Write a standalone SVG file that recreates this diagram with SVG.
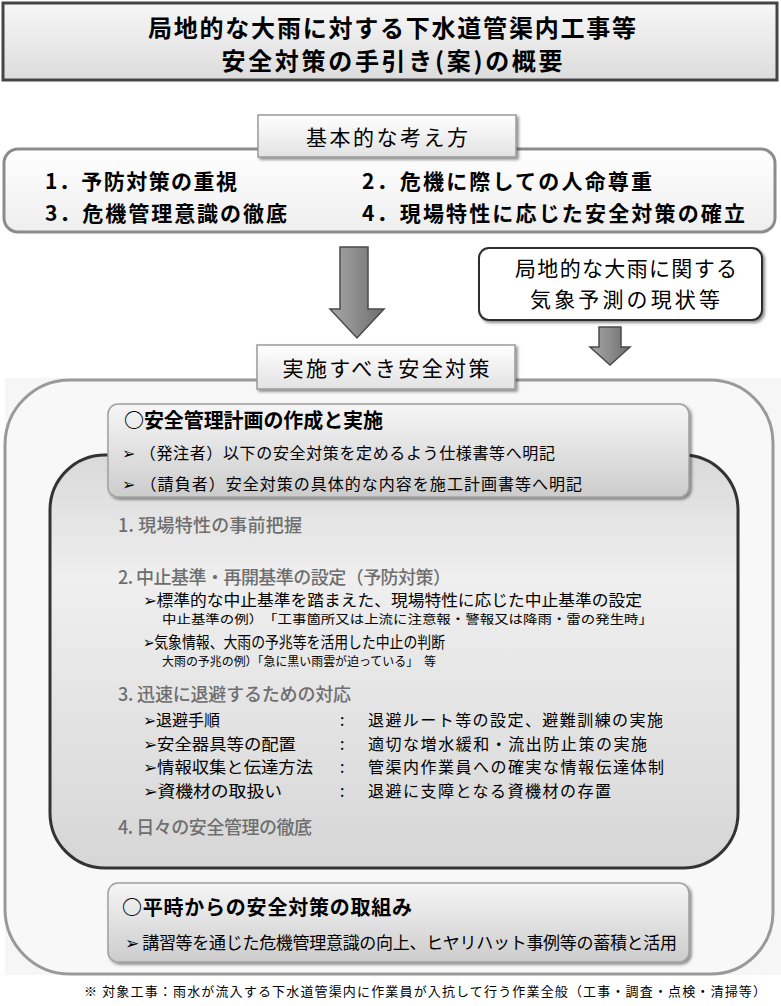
<svg xmlns="http://www.w3.org/2000/svg" width="781" height="1006" viewBox="0 0 781 1006">
<defs>
<linearGradient id="gTitle" x1="0" y1="0" x2="0" y2="1"><stop offset="0" stop-color="#f7f7f7"/><stop offset="1" stop-color="#dcdcdc"/></linearGradient>
<linearGradient id="gLabel" x1="0" y1="0" x2="0" y2="1"><stop offset="0" stop-color="#ffffff"/><stop offset="1" stop-color="#e2e2e2"/></linearGradient>
<linearGradient id="gBasic" x1="0" y1="0" x2="0" y2="1"><stop offset="0" stop-color="#ffffff"/><stop offset="1" stop-color="#eeeeee"/></linearGradient>
<linearGradient id="gInner" x1="0" y1="0" x2="0" y2="1"><stop offset="0" stop-color="#d9d9d9"/><stop offset="0.3" stop-color="#efefef"/><stop offset="1" stop-color="#d6d6d6"/></linearGradient>
<linearGradient id="gPlan" x1="0" y1="0" x2="0" y2="1"><stop offset="0" stop-color="#f6f6f6"/><stop offset="1" stop-color="#cccccc"/></linearGradient>
<linearGradient id="gArrow" x1="0" y1="0" x2="1" y2="0"><stop offset="0" stop-color="#a8a8a8"/><stop offset="1" stop-color="#6e6e6e"/></linearGradient>
<filter id="sh" x="-5%" y="-10%" width="112%" height="130%"><feDropShadow dx="2" dy="2" stdDeviation="1.5" flood-color="#000" flood-opacity="0.45"/></filter>
</defs>
<style>
text{font-family:"Noto Sans CJK JP","Liberation Sans",sans-serif;fill:#000}
.t{font-size:24px;font-weight:bold;text-anchor:middle}
.b{font-size:21px;font-weight:bold}
.lab{font-size:21px;text-anchor:middle}
.h{font-size:20px;font-weight:bold}
.bl{font-size:16px}
.sec{font-size:18px;fill:#6e6e6e;font-weight:500}
.it{font-size:16px}
.sm{font-size:12px}
.fn{font-size:13px}
.arrow{fill:url(#gArrow);stroke:#4a4a4a;stroke-width:1.5}
</style>
<rect x="0" y="0" width="781" height="1006" fill="#ffffff"/>

<g id="title">
<rect x="3" y="3" width="774" height="77" fill="url(#gTitle)" stroke="#454545" stroke-width="3"/>
<text class="t" x="392" y="37" textLength="488">局地的な大雨に対する下水道管渠内工事等</text>
<text class="t" x="392" y="70" textLength="341">安全対策の手引き(案)の概要</text>
</g>

<g id="basic">
<rect x="4" y="149" width="771" height="83" rx="14" fill="url(#gBasic)" stroke="#8c8c8c" stroke-width="3"/>
<text class="b" x="45" y="189" textLength="192">1．予防対策の重視</text>
<text class="b" x="45" y="221" textLength="242">3．危機管理意識の徹底</text>
<text class="b" x="362" y="189" textLength="290">2．危機に際しての人命尊重</text>
<text class="b" x="362" y="221" textLength="383">4．現場特性に応じた安全対策の確立</text>
</g>

<g id="basic-label">
<rect x="258" y="115" width="258" height="42" fill="url(#gLabel)" stroke="#9a9a9a" stroke-width="1.5" filter="url(#sh)"/>
<text class="lab" x="387" y="145" textLength="162">基本的な考え方</text>
</g>

<g id="forecast">
<rect x="479" y="248" width="283" height="72" rx="10" fill="#ffffff" stroke="#2f2f2f" stroke-width="2" filter="url(#sh)"/>
<text class="lab" x="626" y="276" textLength="222">局地的な大雨に関する</text>
<text class="lab" x="625" y="307" textLength="190">気象予測の現状等</text>
</g>

<g id="measures">
<rect x="5" y="378" width="776" height="597" fill="#f6f6f6"/>
<path d="M70,380 H710 A63,63 0 0 1 773,443 V912 A62,62 0 0 1 711,974 H70 A65,65 0 0 1 5,909 V445 A65,65 0 0 1 70,380 Z" fill="#f8f8f8" stroke="#999999" stroke-width="3"/>
</g>

<g id="measures-label">
<rect x="257" y="345" width="258" height="44" fill="url(#gLabel)" stroke="#9a9a9a" stroke-width="1.5" filter="url(#sh)"/>
<text class="lab" x="386" y="376" textLength="207">実施すべき安全対策</text>
</g>

<g id="connectors">
<polygon class="arrow" points="340,247 368,247 368,309 384,309 357,338 330,309 340,309"/>
<polygon class="arrow" points="599,327 621,327 621,347 630,347 610,365 590,347 599,347"/>
</g>

<g id="detail">
<path d="M105,455 H683 A55,55 0 0 1 738,510 V813 A55,55 0 0 1 683,868 H105 A55,55 0 0 1 50,813 V510 A55,55 0 0 1 105,455 Z" fill="url(#gInner)" stroke="#333333" stroke-width="3"/>
<text class="sec" x="118" y="532" textLength="184">1. 現場特性の事前把握</text>
<text class="sec" x="118" y="584" textLength="333">2. 中止基準・再開基準の設定（予防対策）</text>
<text class="it" x="143" y="606" textLength="499" lengthAdjust="spacingAndGlyphs">➢標準的な中止基準を踏まえた、現場特性に応じた中止基準の設定</text>
<text class="sm" x="162" y="624" textLength="491" lengthAdjust="spacingAndGlyphs">中止基準の例）　「工事箇所又は上流に注意報・警報又は降雨・雷の発生時」</text>
<text class="it" x="143" y="648" textLength="302" lengthAdjust="spacingAndGlyphs">➢気象情報、大雨の予兆等を活用した中止の判断</text>
<text class="sm" x="162" y="666" textLength="274" lengthAdjust="spacingAndGlyphs">大雨の予兆の例）「急に黒い雨雲が迫っている」　等</text>
<text class="sec" x="118" y="701" textLength="233">3. 迅速に退避するための対応</text>
<text class="it" x="143" y="726">➢退避手順</text>
<text class="it" x="143" y="750" textLength="153" lengthAdjust="spacingAndGlyphs">➢安全器具等の配置</text>
<text class="it" x="143" y="773" textLength="170" lengthAdjust="spacingAndGlyphs">➢情報収集と伝達方法</text>
<text class="it" x="143" y="797" textLength="139" lengthAdjust="spacingAndGlyphs">➢資機材の取扱い</text>
<text class="it" x="340" y="726">:</text>
<text class="it" x="340" y="750">:</text>
<text class="it" x="340" y="773">:</text>
<text class="it" x="340" y="797">:</text>
<text class="it" x="368" y="726" textLength="295">退避ルート等の設定、避難訓練の実施</text>
<text class="it" x="368" y="750" textLength="279">適切な増水緩和・流出防止策の実施</text>
<text class="it" x="368" y="773" textLength="296">管渠内作業員への確実な情報伝達体制</text>
<text class="it" x="368" y="797" textLength="243">退避に支障となる資機材の存置</text>
<text class="sec" x="118" y="834" textLength="194">4. 日々の安全管理の徹底</text>
</g>

<g id="plan">
<rect x="108" y="404" width="581" height="93" rx="10" fill="url(#gPlan)" stroke="#a0a0a0" stroke-width="1.5" filter="url(#sh)"/>
<text class="h" x="124" y="428" textLength="259">○安全管理計画の作成と実施</text>
<text class="bl" x="122" y="459" textLength="433">➢ （発注者）以下の安全対策を定めるよう仕様書等へ明記</text>
<text class="bl" x="122" y="490" textLength="460">➢ （請負者）安全対策の具体的な内容を施工計画書等へ明記</text>
</g>

<g id="routine">
<rect x="108" y="883" width="581" height="79" rx="10" fill="url(#gPlan)" stroke="#a0a0a0" stroke-width="1.5" filter="url(#sh)"/>
<text class="h" x="122" y="915" textLength="290">○平時からの安全対策の取組み</text>
<text class="bl" x="125" y="949" textLength="552" style="font-size:17px">➢ 講習等を通じた危機管理意識の向上、ヒヤリハット事例等の蓄積と活用</text>
</g>

<g id="note">
<text class="fn" x="84" y="996" textLength="682">※ 対象工事：雨水が流入する下水道管渠内に作業員が入抗して行う作業全般（工事・調査・点検・清掃等）</text>
</g>
</svg>
